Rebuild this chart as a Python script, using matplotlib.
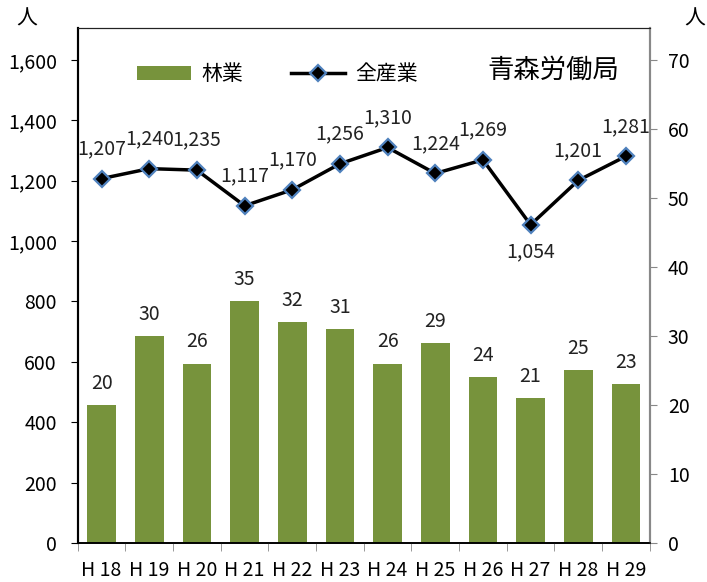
import matplotlib
matplotlib.use("Agg")
import matplotlib.pyplot as plt
from matplotlib.ticker import FuncFormatter, FixedLocator
import numpy as np

plt.rcParams['font.family'] = ['Noto Sans CJK JP', 'DejaVu Sans']

categories = ["H 18", "H 19", "H 20", "H 21", "H 22", "H 23", "H 24", "H 25", "H 26", "H 27", "H 28", "H 29"]
forestry = [20, 30, 26, 35, 32, 31, 26, 29, 24, 21, 25, 23]
all_industry = [1207, 1240, 1235, 1117, 1170, 1256, 1310, 1224, 1269, 1054, 1201, 1281]

fig = plt.figure(figsize=(7.07, 5.82), dpi=100)
ax = fig.add_axes([0.110, 0.067, 0.809, 0.885])
ax2 = ax.twinx()
ax.set_zorder(ax2.get_zorder() + 1)
ax.patch.set_visible(False)

x = np.arange(len(categories))
green = '#77933C'
bars = ax2.bar(x, forestry, width=0.6, color=green, zorder=2)
for xi, v in zip(x, forestry):
    ax2.annotate(str(v), (xi, v), xytext=(0, 8), textcoords='offset points',
                 ha='center', va='bottom', fontsize=14, color='#222222')

line, = ax.plot(x, all_industry, color='black', lw=2.5, marker='D', markersize=8,
                markerfacecolor='black', markeredgecolor='#4F81BD', markeredgewidth=1.6, zorder=3)
for xi, v in zip(x, all_industry):
    if v < 1100:
        ax.annotate(f"{v:,}", (xi, v), xytext=(0, -12), textcoords='offset points',
                    ha='center', va='top', fontsize=14, color='#222222')
    else:
        ax.annotate(f"{v:,}", (xi, v), xytext=(0, 14), textcoords='offset points',
                    ha='center', va='bottom', fontsize=14, color='#222222')

ax.set_xlim(-0.5, len(categories) - 0.5)
ax.set_ylim(0, 1706)
ax2.set_ylim(0, 1706 / 1600 * 70)
ax.yaxis.set_major_locator(FixedLocator(np.arange(0, 1601, 200)))
ax2.yaxis.set_major_locator(FixedLocator(np.arange(0, 71, 10)))
ax.yaxis.set_major_formatter(FuncFormatter(lambda v, p: f"{int(v):,}"))

ax.set_xticks(x)
ax.set_xticklabels(categories, fontsize=14)
ax.xaxis.set_minor_locator(FixedLocator(np.arange(-0.5, len(categories), 1.0)))
ax.tick_params(axis='x', which='major', length=0, pad=12)
ax.tick_params(axis='x', which='minor', length=6, color='#888888', direction='out')
ax.tick_params(axis='y', labelsize=14, length=5, color='black', pad=10)
ax2.tick_params(axis='y', labelsize=14, length=5, color='#888888', pad=8)
ax2.tick_params(axis='x', length=0)

for a in (ax, ax2):
    a.spines['left'].set_color('black')
    a.spines['top'].set_color('#222222')
    a.spines['bottom'].set_color('black')
    a.spines['right'].set_color('#888888')
    a.spines['left'].set_linewidth(1.5)
    a.spines['right'].set_linewidth(1.5)
    a.spines['bottom'].set_linewidth(1.2)

leg = ax.legend([bars, line], ["林業", "全産業"], loc='upper left',
                bbox_to_anchor=(0.07, 0.968), ncol=2, frameon=False, fontsize=15,
                handlelength=2.6, columnspacing=2.3, handletextpad=0.5)

fig.text(0.782, 0.880, "青森労働局", fontsize=19, ha='center', va='center')
fig.text(0.038, 0.968, "人", fontsize=15, ha='center', va='center')
fig.text(0.982, 0.968, "人", fontsize=15, ha='center', va='center')

fig.savefig("out.png", dpi=100)
